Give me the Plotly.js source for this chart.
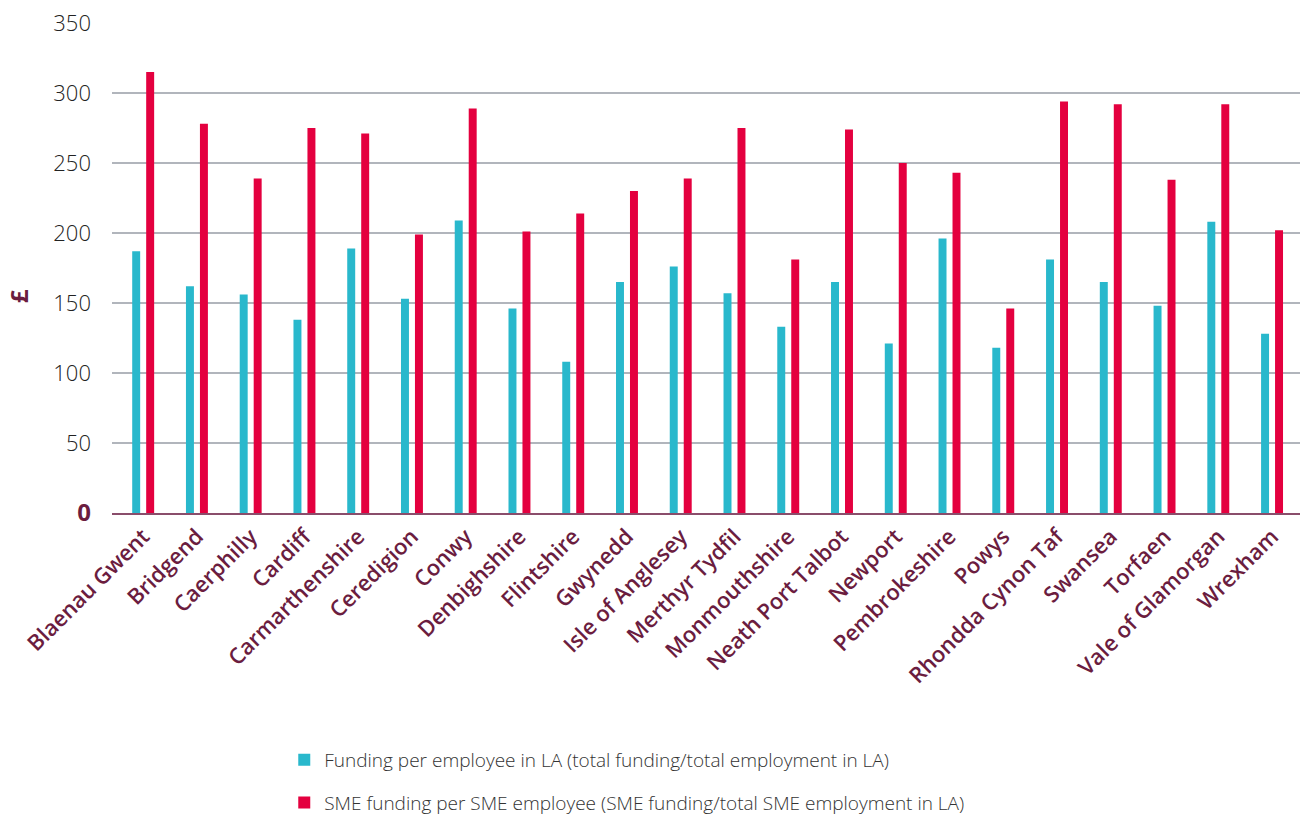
<!DOCTYPE html>
<html>
<head>
<meta charset="utf-8">
<script src="https://cdn.plot.ly/plotly-3.0.1.min.js"></script>
<style>html,body{margin:0;padding:0;background:#fff;}#chart{width:1300px;height:816px;}</style>
</head>
<body>
<div id="chart"></div>
<script>
const categories = ["Blaenau Gwent","Bridgend","Caerphilly","Cardiff","Carmarthenshire","Ceredigion","Conwy","Denbighshire","Flintshire","Gwynedd","Isle of Anglesey","Merthyr Tydfil","Monmouthshire","Neath Port Talbot","Newport","Pembrokeshire","Powys","Rhondda Cynon Taf","Swansea","Torfaen","Vale of Glamorgan","Wrexham"];
const fundingPerEmployee = [187,162,156,138,189,153,209,146,108,165,176,157,133,165,121,196,118,181,165,148,208,128];
const smeFundingPerSmeEmployee = [315,278,239,275,271,199,289,201,214,230,239,275,181,274,250,243,146,294,292,238,292,202];
const seriesNames = ["Funding per employee in LA (total funding/total employment in LA)","SME funding per SME employee (SME funding/total SME employment in LA)"];
const yTickVals = [0,50,100,150,200,250,300,350];
const yTickText = ["<b><span style='color:#6b1d3f;font-size:24px'>0</span></b>","50","100","150","200","250","300","350"];

const purple = "#6b1d3f";
const traces = [
  {type:"bar", x:categories, y:fundingPerEmployee, name:seriesNames[0], marker:{color:"#29b8cc"}, legendgroup:"a"},
  {type:"bar", x:categories, y:smeFundingPerSmeEmployee, name:seriesNames[1], marker:{color:"#e4003f"}, legendgroup:"b"}
];
const layout = {
  width:1300, height:816,
  margin:{l:112, r:0, t:23, b:303},
  paper_bgcolor:"#fff", plot_bgcolor:"#fff",
  barmode:"group", bargap:0.48, bargroupgap:0.43,
  font:{family:"'Open Sans', sans-serif"},
  xaxis:{
    type:"category", range:[-0.58, 21.52],
    tickangle:-45, tickfont:{family:"'Open Sans', sans-serif", size:22, color:purple, weight:600},
    showgrid:false, showline:true, linecolor:"#8a4d6b", linewidth:2, ticks:"", automargin:false
  },
  yaxis:{
    range:[0,350], tickvals:yTickVals, ticktext:yTickText,
    tickfont:{family:"'Open Sans', sans-serif", size:22, color:"#222", weight:300},
    ticklabelstandoff:20,
    showgrid:true, gridcolor:"#b1b5bc", gridwidth:1.5, zeroline:false, ticks:"", ticklen:0,
    automargin:false, fixedrange:true
  },
  showlegend:true,
  legend:{orientation:"v", x:0.145, xanchor:"left", yref:"container", y:0.092, yanchor:"top",
    font:{family:"'Open Sans', sans-serif", size:19, color:"#333", weight:300}, tracegroupgap:15, traceorder:"grouped", bgcolor:"rgba(0,0,0,0)"},
  annotations:[{text:"<b>£</b>", xref:"paper", yref:"paper", x:-0.079, y:(513-296)/490, xanchor:"center", yanchor:"middle",
    showarrow:false, textangle:-90, font:{family:"'Open Sans', sans-serif", size:24, color:purple}}]
};
Plotly.newPlot("chart", traces, layout, {displayModeBar:false, staticPlot:true});
</script>
</body>
</html>
